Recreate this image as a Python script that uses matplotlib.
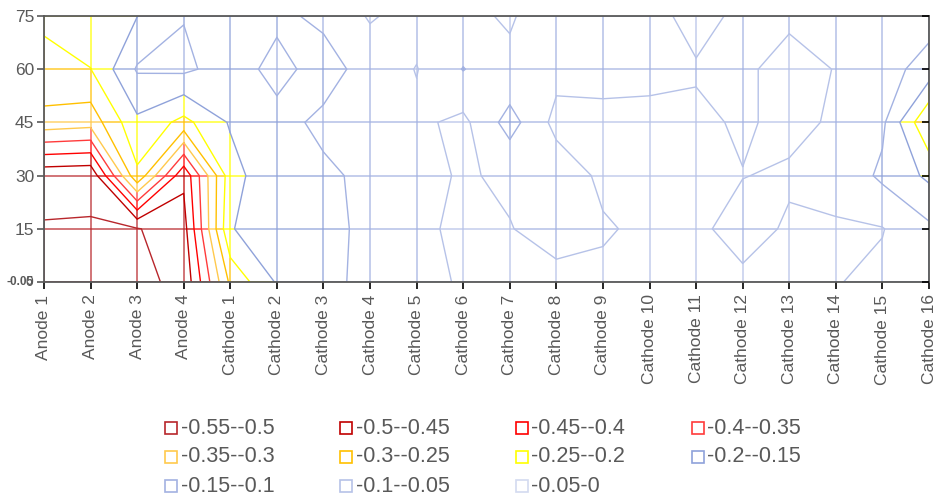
import numpy as np
import matplotlib
matplotlib.use("Agg")
from matplotlib import pyplot as plt
from matplotlib.collections import LineCollection
from matplotlib.lines import Line2D

plt.rcParams['font.family'] = ['Liberation Sans', 'DejaVu Sans']

categories = ["Anode 1", "Anode 2", "Anode 3", "Anode 4"] + ["Cathode %d" % k for k in range(1, 17)]
depths = [0, 15, 30, 45, 60, 75]

# surface values, one list per depth row (left -> right)
row_0 = [-0.56, -0.56, -0.56, -0.54, -0.29, -0.195, -0.165, -0.135, -0.115, -0.095,
         -0.09, -0.085, -0.09, -0.09, -0.093, -0.092, -0.093, -0.098, -0.11, -0.12]
row_15 = [-0.553, -0.553, -0.553, -0.52, -0.203, -0.17, -0.16, -0.142, -0.11, -0.09,
          -0.098, -0.12, -0.105, -0.09, -0.092, -0.115, -0.095, -0.097, -0.098, -0.14]
row_30 = [-0.535, -0.54, -0.26, -0.49, -0.22, -0.16, -0.158, -0.14, -0.115, -0.095,
          -0.108, -0.13, -0.09, -0.09, -0.093, -0.099, -0.105, -0.11, -0.16, -0.21]
row_45 = [-0.32, -0.33, -0.21, -0.265, -0.195, -0.165, -0.14, -0.135, -0.11, -0.088,
          -0.17, -0.085, -0.088, -0.088, -0.092, -0.105, -0.09, -0.105, -0.14, -0.3]
row_60 = [-0.255, -0.251, -0.145, -0.14, -0.173, -0.135, -0.17, -0.13, -0.098, -0.152,
          -0.11, -0.115, -0.115, -0.112, -0.104, -0.105, -0.09, -0.101, -0.13, -0.17]
row_75 = [-0.247, -0.215, -0.201, -0.152, -0.18, -0.16, -0.14, -0.095, -0.12, -0.11,
          -0.095, -0.13, -0.125, -0.115, -0.085, -0.11, -0.105, -0.11, -0.12, -0.13]

band_labels = ["-0.55--0.5", "-0.5--0.45", "-0.45--0.4", "-0.4--0.35",
               "-0.35--0.3", "-0.3--0.25", "-0.25--0.2", "-0.2--0.15",
               "-0.15--0.1", "-0.1--0.05", "-0.05-0"]
band_colors = ["#B8262B", "#C00000", "#FF0000", "#FF3B3B",
               "#FFC94D", "#FFC000", "#FFFF00", "#8FA2DA",
               "#A3B2E2", "#B6C2E8", "#D3DAF0"]

levels = np.round(np.arange(-0.55, 0.001, 0.05), 2)
line_levels = levels[:-1]

Z = np.array([row_0, row_15, row_30, row_45, row_60, row_75])
xs = np.arange(len(categories))
ys = np.array(depths)

def band_of(v):
    k = int(np.floor((v - levels[0]) / 0.05 + 1e-9))
    return min(max(k, 0), len(band_colors) - 1)

def pieces(p0, p1, a, b):
    # split one grid edge where it crosses contour levels, colour each piece by band
    ts = [0.0, 1.0]
    for L in line_levels:
        if (a - L) * (b - L) < 0:
            ts.append((L - a) / (b - a))
    ts.sort()
    out = []
    for t0, t1 in zip(ts[:-1], ts[1:]):
        tm = (t0 + t1) / 2
        q0 = (p0[0] + (p1[0] - p0[0]) * t0, p0[1] + (p1[1] - p0[1]) * t0)
        q1 = (p0[0] + (p1[0] - p0[0]) * t1, p0[1] + (p1[1] - p0[1]) * t1)
        out.append(([q0, q1], band_colors[band_of(a + (b - a) * tm)]))
    return out

segs, cols = [], []
for j in range(len(ys)):
    for i in range(len(xs) - 1):
        for s, c in pieces((xs[i], ys[j]), (xs[i + 1], ys[j]), Z[j, i], Z[j, i + 1]):
            segs.append(s); cols.append(c)
for i in range(len(xs)):
    for j in range(len(ys) - 1):
        for s, c in pieces((xs[i], ys[j]), (xs[i], ys[j + 1]), Z[j, i], Z[j + 1, i]):
            segs.append(s); cols.append(c)

fig = plt.figure(figsize=(9.43, 4.99), dpi=100)
ax = fig.add_axes([44 / 943, 1 - 282 / 499, 885 / 943, 266 / 499])

ax.add_collection(LineCollection(segs, colors=cols, linewidths=1.2, alpha=0.75, zorder=1))
ax.contour(xs, ys, Z, levels=line_levels, colors=band_colors, linewidths=1.0, zorder=2)

ax.set_xlim(0, len(xs) - 1)
ax.set_ylim(0, 75)
ax.set_xticks(xs)
ax.set_xticklabels(categories, rotation=90, fontsize=12.5, color="#595959")
ax.set_yticks(depths)
ax.set_yticklabels([""] + [str(d) for d in depths[1:]], fontsize=12.5, color="#595959")
ax.tick_params(axis="x", direction="out", length=5, width=1.2, color="black", pad=4)
ax.tick_params(axis="y", direction="out", length=5, width=1.2, color="#595959", pad=2)
for sp in ax.spines.values():
    sp.set_color("#595959")
    sp.set_linewidth(1.3)
    sp.set_zorder(5)

# short inward ticks on the right edge
ax_r = ax.twinx()
ax_r.set_ylim(0, 75)
ax_r.set_yticks(depths)
ax_r.set_yticklabels([])
ax_r.tick_params(axis="y", direction="in", length=5, width=1.2, color="black")
for sp in ax_r.spines.values():
    sp.set_visible(False)

# overlapping value-axis labels at the origin
ax.text(-0.012, 0, "-0.05", transform=ax.get_yaxis_transform(), ha="right", va="center",
        fontsize=8.5, color="#595959", fontweight="bold")
ax.text(-0.012, 0, "0", transform=ax.get_yaxis_transform(), ha="right", va="center",
        fontsize=10, color="#595959")

# legend, laid out row by row
x0, dx = 171 / 943, 175.5 / 943
y0, dy = 1 - 428 / 499, 29 / 499
for k, (lab, col) in enumerate(zip(band_labels, band_colors)):
    r, c = divmod(k, 4)
    x, y = x0 + c * dx, y0 - r * dy
    fig.add_artist(Line2D([x], [y], marker="s", markersize=8.3, markerfacecolor="white",
                          markeredgecolor=col, markeredgewidth=1.2, linestyle="none",
                          transform=fig.transFigure))
    fig.text(x + 9.5 / 943, y, lab, fontsize=15.5, color="#595959", va="center", ha="left")

plt.savefig("out.png", dpi=100)
